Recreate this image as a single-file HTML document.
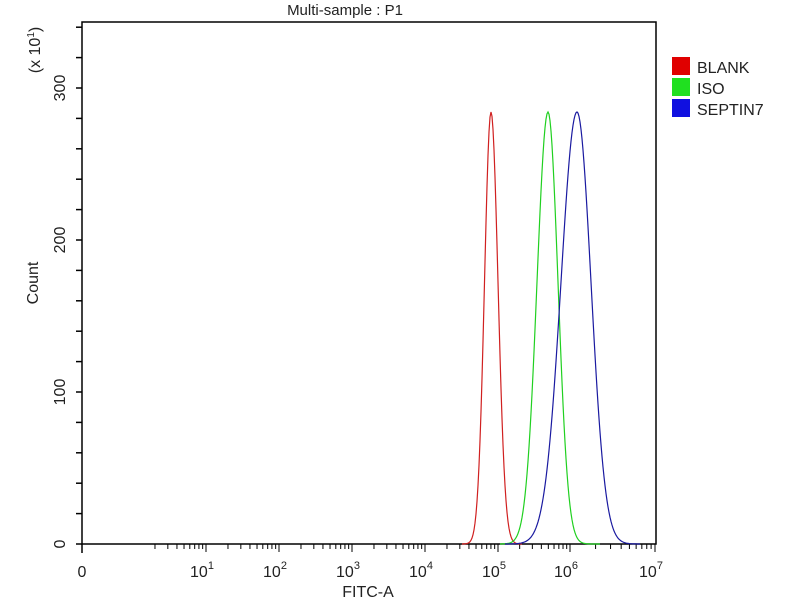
<!DOCTYPE html>
<html><head><meta charset="utf-8"><style>body{margin:0;background:#fff}svg{display:block}text{font-family:"Liberation Sans",sans-serif;fill:#222}</style></head>
<body>
<svg id="s" width="800" height="600" xmlns="http://www.w3.org/2000/svg">
<rect width="800" height="600" fill="#fff"/>
<text x="345" y="15" font-size="15" text-anchor="middle">Multi-sample : P1</text>
<rect x="82" y="22" width="574" height="522" fill="none" stroke="#000" stroke-width="1.5"/>
<g id="yt" stroke="#000" stroke-width="1.5"></g>
<g font-size="16" text-anchor="middle">
<text transform="translate(65,544) rotate(-90)">0</text>
<text transform="translate(65,392) rotate(-90)">100</text>
<text transform="translate(65,240) rotate(-90)">200</text>
<text transform="translate(65,88) rotate(-90)">300</text>
<text transform="translate(40,50) rotate(-90)">(x 10<tspan font-size="10" dy="-6">1</tspan><tspan dy="6">)</tspan></text>
<text transform="translate(38,283) rotate(-90)">Count</text>
</g>
<g id="xt" stroke="#000" stroke-width="1"></g>
<g font-size="16" text-anchor="middle" id="xl"></g>
<text x="368" y="597" font-size="16" text-anchor="middle">FITC-A</text>
<g id="curves" fill="none" stroke-width="1.2"></g>
<rect x="672" y="57" width="18" height="18" fill="#e00000"/>
<rect x="672" y="78" width="18" height="18" fill="#20e020"/>
<rect x="672" y="99" width="18" height="18" fill="#1010e0"/>
<g font-size="16"><text x="697" y="73">BLANK</text><text x="697" y="94">ISO</text><text x="697" y="115">SEPTIN7</text></g>
</svg>
<script>
var ns="http://www.w3.org/2000/svg",xt=document.getElementById('xt'),xl=document.getElementById('xl'),yt=document.getElementById('yt');
function el(p,t,a){var e=document.createElementNS(ns,t);for(var k in a)e.setAttribute(k,a[k]);p.appendChild(e);return e;}
for(var v=0;v<=340;v+=20){var y=544-v*1.52;if(y<22)break;el(yt,'line',{x1:76,y1:y,x2:82,y2:y});}
el(yt,'line',{x1:82,y1:544,x2:82,y2:553});
var D=[133,206,279,352,425,498,570,655];
el(xt,'line',{x1:82,y1:544,x2:82,y2:552});
for(var n=0;n<7;n++){var a=D[n],b=D[n+1];for(var m=2;m<=9;m++){var x=a+(b-a)*Math.log10(m);if(x>135)el(xt,'line',{x1:x,y1:544,x2:x,y2:549});}
 el(xt,'line',{x1:b,y1:544,x2:b,y2:552});}
var lbl=el(xl,'text',{x:82,y:577});lbl.textContent='0';
for(var n=1;n<=7;n++){var t=el(xl,'text',{x:D[n]-4,y:577});t.textContent='10';var s=el(t,'tspan',{'font-size':'11',dy:'-8'});s.textContent=n;}
var cv=document.getElementById('curves');
function curve(c,mu,sl,sr,h,lo,hi){var p=[];for(var x=lo;x<=hi;x+=1){var s=x<mu?sl:sr;var y=544-h*Math.exp(-Math.pow((x-mu)/s,2)/2);p.push(x+','+y.toFixed(1));}el(cv,'polyline',{points:p.join(' '),stroke:c});}
curve('#d02020',491,6.5,7,432,462,522);
curve('#20d020',548,11,10,432,500,600);
curve('#1a1aa0',577,16,14,432,505,640);
</script>
</body></html>
